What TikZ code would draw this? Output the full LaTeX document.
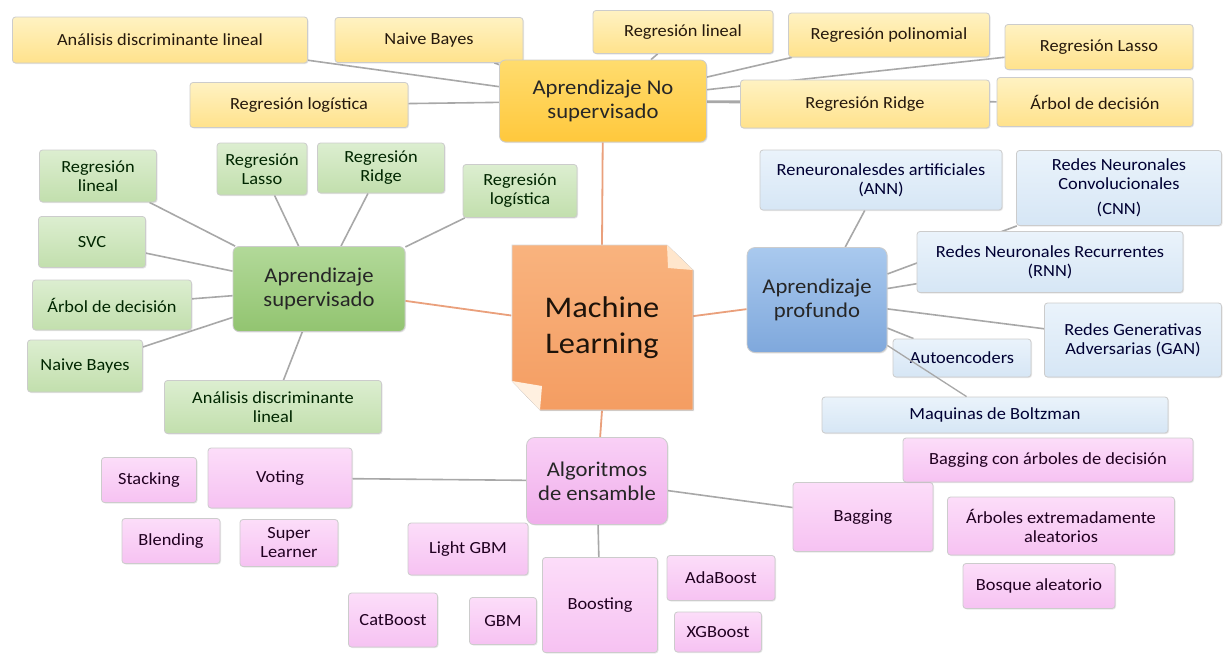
\documentclass[tikz,border=0pt]{standalone}
\usepackage{fontspec}
\setmainfont{Carlito}[FakeStretch=1.08]
\usetikzlibrary{backgrounds,shadows}
\pgfdeclarelayer{paper}
\pgfsetlayers{paper,background,main}
\definecolor{yT}{HTML}{FFF2C2}\definecolor{yB}{HTML}{FFE28C}
\definecolor{yMT}{HTML}{FFDC6E}\definecolor{yMB}{HTML}{FFC83C}
\definecolor{gT}{HTML}{DCEED0}\definecolor{gB}{HTML}{C2DFAD}
\definecolor{gMT}{HTML}{B2D999}\definecolor{gMB}{HTML}{92C470}
\definecolor{bT}{HTML}{EAF3FB}\definecolor{bB}{HTML}{D6E6F5}
\definecolor{bMT}{HTML}{A9C9EE}\definecolor{bMB}{HTML}{7FA8DC}
\definecolor{pT}{HTML}{FCDDF9}\definecolor{pB}{HTML}{F6C2F2}
\definecolor{pMT}{HTML}{F9D0F6}\definecolor{pMB}{HTML}{F0AEEB}
\definecolor{mlT}{HTML}{F9B37E}\definecolor{mlB}{HTML}{F49D62}
\definecolor{conn}{HTML}{A8A8A8}
\definecolor{oconn}{HTML}{EAA07C}
\begin{document}
\begin{tikzpicture}[x=1pt,y=-1pt,
  every node/.style={align=center, inner sep=0pt, text=black!85},
  sz/.style 2 args={minimum width=#1pt, minimum height=#2pt},
  boxbase/.style={rounded corners=3pt, draw=black!20, line width=0.8pt,
     drop shadow={opacity=0.18, shadow xshift=1pt, shadow yshift=-1pt},
     font=\fontsize{17}{19}\selectfont},
  ybox/.style={boxbase, top color=yT, bottom color=yB, text=black!80!brown},
  ymain/.style={boxbase, top color=yMT, bottom color=yMB, rounded corners=6pt, font=\fontsize{21}{24}\selectfont},
  gbox/.style={boxbase, top color=gT, bottom color=gB, text=black!85!green},
  gmain/.style={boxbase, top color=gMT, bottom color=gMB, rounded corners=6pt, font=\fontsize{21}{24}\selectfont},
  bbox/.style={boxbase, top color=bT, bottom color=bB, text=black!80!blue},
  bmain/.style={boxbase, top color=bMT, bottom color=bMB, rounded corners=8pt, font=\fontsize{21}{24}\selectfont},
  pbox/.style={boxbase, top color=pT, bottom color=pB, text=black!75!violet},
  pmain/.style={boxbase, top color=pMT, bottom color=pMB, rounded corners=8pt, font=\fontsize{21}{24}\selectfont},
  cline/.style={draw=conn, line width=1.6pt},
  oline/.style={draw=oconn, line width=1.8pt}]
\begin{pgfonlayer}{paper}
\fill[white] (0,0) rectangle (1223,654);
\end{pgfonlayer}
\useasboundingbox (0,0) rectangle (1223,654);

% ---------- yellow ----------
\node[ybox, sz={295}{46}] (y1) at (160,40) {Análisis discriminante lineal};
\node[ybox, sz={188}{45}] (y2) at (429,40) {Naive Bayes};
\node[ybox, sz={218}{45}] (y3) at (299,105) {Regresión logística};
\node[ymain, sz={207}{82}] (AprNo) at (603,101) {Aprendizaje No\\supervisado};
\node[ybox, sz={180}{43}] (y4) at (683,32) {Regresión lineal};
\node[ybox, sz={201}{44}] (y5) at (889,35) {Regresión polinomial};
\node[ybox, sz={188}{45}] (y6) at (1099,47) {Regresión Lasso};
\node[ybox, sz={249}{48}] (y7) at (865,104) {Regresión Ridge};
\node[ybox, sz={196}{49}] (y8) at (1095,102) {Árbol de decisión};

% ---------- green ----------
\node[gbox, sz={117}{52}] (g1) at (98,176) {Regresión\\lineal};
\node[gbox, sz={90}{52}] (g2) at (262,169) {Regresión\\Lasso};
\node[gbox, sz={127}{50}] (g3) at (381,168) {Regresión\\Ridge};
\node[gbox, sz={114}{53}] (g4) at (520,191) {Regresión\\logística};
\node[gbox, sz={107}{51}] (g5) at (92,242) {SVC};
\node[gbox, sz={159}{50}] (g6) at (112,305) {Árbol de decisión};
\node[gbox, sz={115}{52}] (g7) at (85,366) {Naive Bayes};
\node[gmain, sz={172}{85}] (AprSup) at (319,289) {Aprendizaje\\supervisado};
\node[gbox, sz={217}{53}] (g8) at (273,407) {Análisis discriminante\\lineal};

% ---------- center ----------
\fill[top color=mlT, bottom color=mlB, drop shadow={opacity=0.2, shadow xshift=1pt, shadow yshift=-1pt}]
  (512,245) -- (667,245) -- (693,270) -- (693,410) -- (540,410) -- (512,381) -- cycle;
\draw[black!15, line width=0.6pt]
  (512,245) -- (667,245) -- (693,270) -- (693,410) -- (540,410) -- (512,381) -- cycle;
\fill[color=white!70!orange!40] (512,381) -- (540,410) -- (542,386) -- cycle;
\fill[color=white!60!orange!50] (667,245) -- (693,270) -- (668,268) -- cycle;
\node[sz={181}{165}, font=\fontsize{30}{36}\selectfont, text=black!85!brown] (ML) at (602,328) {Machine\\Learning};

% ---------- blue ----------
\node[bmain, sz={140}{105}] (AprProf) at (817,300) {Aprendizaje\\profundo};
\node[bbox, sz={242}{60}] (b1) at (881,180) {Reneuronalesdes artificiales\\(ANN)};
\node[bbox, sz={205}{75}] (b2) at (1119,188) {Redes Neuronales\\Convolucionales\\[6pt](CNN)};
\node[bbox, sz={266}{61}] (b3) at (1050,262) {Redes Neuronales Recurrentes\\(RNN)};
\node[bbox, sz={177}{74}] (b4) at (1133,340) {Redes Generativas\\Adversarias (GAN)};
\node[bbox, sz={138}{38}] (b5) at (962,358) {Autoencoders};
\node[bbox, sz={346}{36}] (b6) at (995,415) {Maquinas de Boltzman};
\draw[cline, line width=1.3pt] (AprProf) -- (b6);

% ---------- pink ----------
\node[pmain, sz={141}{87}] (Algo) at (597,481) {Algoritmos\\de ensamble};
\node[pbox, sz={95}{45}] (p1) at (149,480) {Stacking};
\node[pbox, sz={144}{60}] (p2) at (280,478) {Voting};
\node[pbox, sz={98}{45}] (p3) at (171,541) {Blending};
\node[pbox, sz={98}{47}] (p4) at (289,543) {Super\\Learner};
\node[pbox, sz={120}{52}] (p5) at (468,549) {Light GBM};
\node[pbox, sz={115}{95}] (p6) at (600,605) {Boosting};
\node[pbox, sz={108}{45}] (p7) at (721,578) {AdaBoost};
\node[pbox, sz={87}{40}] (p8) at (718,632) {XGBoost};
\node[pbox, sz={67}{47}] (p9) at (503,621) {GBM};
\node[pbox, sz={89}{54}] (p10) at (393,620) {CatBoost};
\node[pbox, sz={140}{69}] (p11) at (863,517) {Bagging};
\node[pbox, sz={290}{44}] (p12) at (1048,460) {Bagging con árboles de decisión};
\node[pbox, sz={227}{58}] (p13) at (1061,526) {Árboles extremadamente\\aleatorios};
\node[pbox, sz={152}{45}] (p14) at (1039,586) {Bosque aleatorio};

% ---------- connectors ----------
\begin{scope}[on background layer]
  \foreach \n in {y1,y2,y3,y4,y5,y6,y7,y8} \draw[cline] (AprNo) -- (\n);
  \foreach \n in {g1,g2,g3,g4,g5,g6,g7,g8} \draw[cline] (AprSup) -- (\n);
  \foreach \n in {b1,b2,b3,b4,b5} \draw[cline] (AprProf) -- (\n);
  \foreach \n in {p2,p6,p11} \draw[cline] (Algo) -- (\n);
  \draw[oline] (ML.north) -- (AprNo);
  \draw[oline] (ML) -- (AprSup);
  \draw[oline] (ML) -- (AprProf);
  \draw[oline] (ML.south) -- (Algo);
\end{scope}
\end{tikzpicture}
\end{document}
